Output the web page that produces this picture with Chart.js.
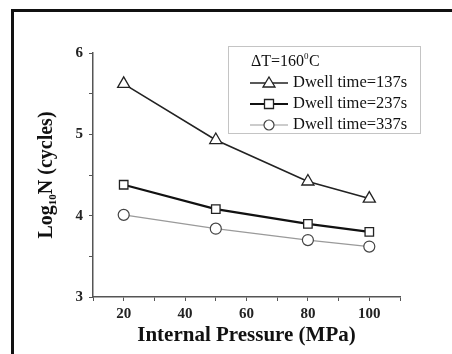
<!DOCTYPE html>
<html>
<head>
<meta charset="utf-8">
<script src="https://cdn.jsdelivr.net/npm/chart.js@4"></script>
<style>
  html, body { margin: 0; padding: 0; background: #fff; }
  #wrap { position: relative; width: 452px; height: 354px; }
  #frame { position: absolute; left: 11px; top: 9px; right: 0; bottom: 0; border-left: 3px solid #111; border-top: 3px solid #111; pointer-events: none; }
</style>
</head>
<body>
<div id="wrap">
  <canvas id="chart" width="452" height="354"></canvas>
  <div id="frame"></div>
</div>
<script>
// Daten
const pressures = [20, 50, 80, 100];
const dwell137 = [5.62, 4.93, 4.42, 4.21];
const dwell237 = [4.38, 4.08, 3.90, 3.80];
const dwell337 = [4.01, 3.84, 3.70, 3.62];
const seriesLabels = ['Dwell time=137s', 'Dwell time=237s', 'Dwell time=337s'];
const legendTitle = 'ΔT=160';
const yTicks = [3, 4, 5, 6];
const xTicks = [20, 40, 60, 80, 100];

const serif = '"Liberation Serif", "DejaVu Serif", serif';

const toPoints = vals => vals.map((v, i) => ({ x: pressures[i], y: v }));

// Legende + y-Achsentitel von Hand zeichnen (wegen Index und Kasten)
const extras = {
    id: 'extras',
    afterDraw(chart) {
        const ctx = chart.ctx;
        const area = chart.chartArea;
        ctx.save();

        // y-Titel mit tiefgestelltem 10
        ctx.translate(47, (area.top + area.bottom) / 2);
        ctx.rotate(-Math.PI / 2);
        ctx.fillStyle = '#111';
        ctx.textBaseline = 'middle';
        const p1 = 'Log', p2 = '10', p3 = 'N (cycles)';
        ctx.font = 'bold 20px ' + serif;
        const w1 = ctx.measureText(p1).width;
        const w3 = ctx.measureText(p3).width;
        ctx.font = 'bold 11px ' + serif;
        const w2 = ctx.measureText(p2).width;
        let x = -(w1 + w2 + w3) / 2;
        ctx.font = 'bold 20px ' + serif;
        ctx.fillText(p1, x, 0);
        x += w1;
        ctx.font = 'bold 11px ' + serif;
        ctx.fillText(p2, x, 6);
        x += w2;
        ctx.font = 'bold 20px ' + serif;
        ctx.fillText(p3, x, 0);
        ctx.restore();

        // Legendenkasten
        ctx.save();
        const bx = 228, by = 46, bw = 192, bh = 87;
        ctx.strokeStyle = '#888';
        ctx.lineWidth = 1;
        ctx.setLineDash([1, 1]);
        ctx.strokeRect(bx + 0.5, by + 0.5, bw, bh);
        ctx.setLineDash([]);

        ctx.fillStyle = '#111';
        ctx.textBaseline = 'middle';
        ctx.font = '16px ' + serif;
        ctx.fillText(legendTitle, 251, 62);
        const tw = ctx.measureText(legendTitle).width;
        ctx.font = '9px ' + serif;
        ctx.fillText('0', 251 + tw, 57);
        ctx.font = '16px ' + serif;
        ctx.fillText('C', 251 + tw + 5, 62);

        chart.data.datasets.forEach((ds, i) => {
            const yy = 83 + i * 21;
            ctx.strokeStyle = ds.borderColor;
            ctx.lineWidth = ds.borderWidth;
            ctx.beginPath();
            ctx.moveTo(250, yy);
            ctx.lineTo(288, yy);
            ctx.stroke();
            ctx.fillStyle = '#fff';
            ctx.strokeStyle = ds.pointBorderColor;
            ctx.lineWidth = ds.pointBorderWidth;
            ctx.beginPath();
            if (ds.pointStyle === 'triangle') {
                ctx.moveTo(269, yy - 6); ctx.lineTo(275, yy + 4); ctx.lineTo(263, yy + 4); ctx.closePath();
            } else if (ds.pointStyle === 'rect') {
                ctx.rect(264.5, yy - 4.5, 9, 9);
            } else {
                ctx.arc(269, yy, 5, 0, Math.PI * 2);
            }
            ctx.fill();
            ctx.stroke();
            ctx.fillStyle = '#111';
            ctx.font = '16.5px ' + serif;
            ctx.fillText(ds.label, 293, yy);
        });
        ctx.restore();
    }
};

const ctx = document.getElementById('chart').getContext('2d');
new Chart(ctx, {
    type: 'line',
    data: {
        datasets: [{
            label: seriesLabels[0],
            data: toPoints(dwell137),
            borderColor: '#222',
            borderWidth: 1.6,
            pointStyle: 'triangle',
            pointRadius: 7,
            pointBackgroundColor: '#fff',
            pointBorderColor: '#222',
            pointBorderWidth: 1.3
        }, {
            label: seriesLabels[1],
            data: toPoints(dwell237),
            borderColor: '#111',
            borderWidth: 2.2,
            pointStyle: 'rect',
            pointRadius: 6,
            pointBackgroundColor: '#fff',
            pointBorderColor: '#222',
            pointBorderWidth: 1.3
        }, {
            label: seriesLabels[2],
            data: toPoints(dwell337),
            borderColor: '#9a9a9a',
            borderWidth: 1.2,
            pointStyle: 'circle',
            pointRadius: 5.5,
            pointBackgroundColor: '#fff',
            pointBorderColor: '#444',
            pointBorderWidth: 1.2
        }]
    },
    options: {
        responsive: false,
        animation: false,
        layout: { padding: { top: 53, right: 52, left: 0, bottom: 0 } },
        plugins: {
            legend: { display: false },
            tooltip: { enabled: false }
        },
        scales: {
            x: {
                type: 'linear',
                min: 10,
                max: 110,
                afterFit: s => { s.height = 57; },
                border: { color: '#555', width: 1.5 },
                grid: { drawOnChartArea: false, drawTicks: true, tickLength: 4, color: '#555' },
                ticks: {
                    stepSize: 10,
                    color: '#222',
                    padding: 4,
                    font: { family: serif, size: 15, weight: 'bold' },
                    callback: v => xTicks.includes(v) ? v : ''
                },
                title: {
                    display: true,
                    text: 'Internal Pressure (MPa)',
                    color: '#111',
                    font: { family: serif, size: 21, weight: 'bold' },
                    padding: { top: 0, bottom: 6 }
                }
            },
            y: {
                min: 3,
                max: 6,
                afterFit: s => { s.width = 93; },
                border: { color: '#555', width: 1.5 },
                grid: { drawOnChartArea: false, drawTicks: true, tickLength: 4, color: '#555' },
                ticks: {
                    stepSize: 0.5,
                    color: '#222',
                    padding: 6,
                    font: { family: serif, size: 15, weight: 'bold' },
                    callback: v => yTicks.includes(v) ? v : ''
                }
            }
        }
    },
    plugins: [extras]
});
</script>
</body>
</html>
